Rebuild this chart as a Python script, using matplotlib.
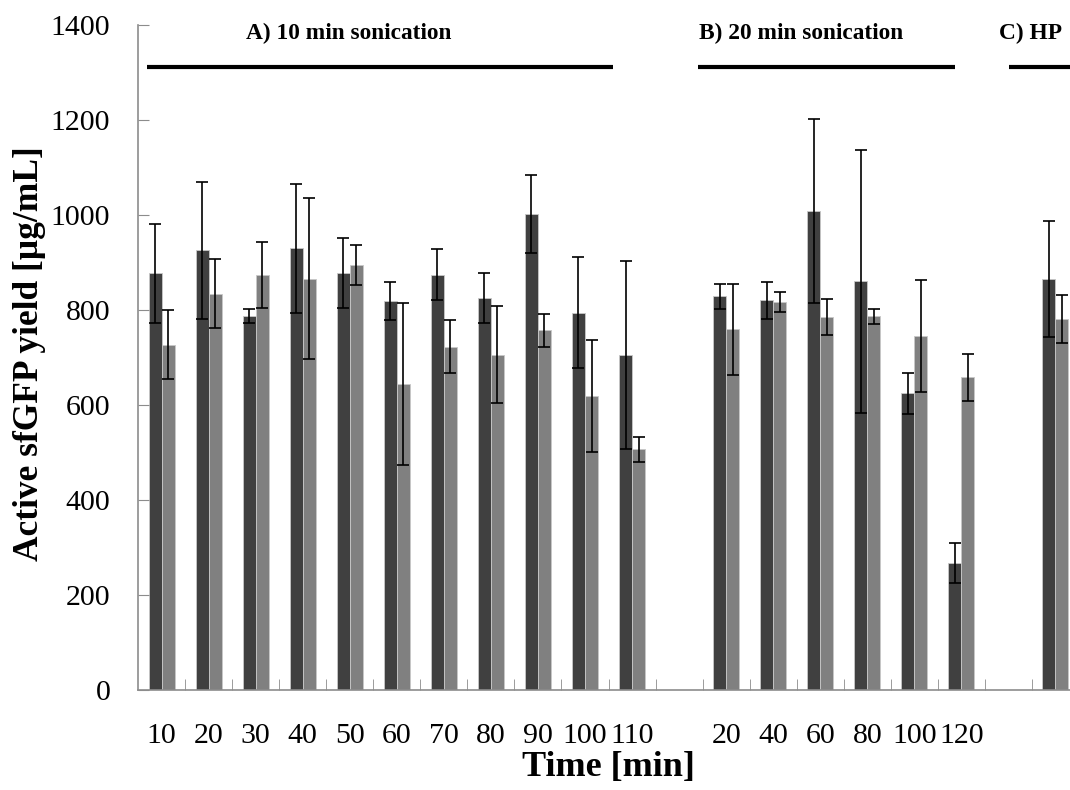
import numpy as np
import matplotlib
matplotlib.use("Agg")
import matplotlib.pyplot as plt

plt.rcParams['font.family'] = ['Liberation Serif', 'DejaVu Serif']

# A) 10 min sonication, times 10..110 min
a_labels = ['10', '20', '30', '40', '50', '60', '70', '80', '90', '100', '110']
a_dark = [877, 926, 787, 930, 878, 818, 874, 825, 1002, 794, 706]
a_dark_err = [105, 144, 15, 136, 74, 40, 54, 52, 82, 117, 198]
a_gray = [727, 834, 874, 866, 894, 644, 723, 706, 757, 619, 507]
a_gray_err = [72, 73, 69, 169, 42, 171, 55, 102, 35, 118, 26]

# B) 20 min sonication, times 20..120 min
b_labels = ['20', '40', '60', '80', '100', '120']
b_dark = [829, 820, 1008, 860, 625, 267]
b_dark_err = [26, 38, 194, 277, 43, 42]
b_gray = [759, 816, 785, 787, 745, 658]
b_gray_err = [96, 21, 38, 16, 118, 50]

# C) HP
c_labels = ['']
c_dark = [865]
c_dark_err = [122]
c_gray = [781]
c_gray_err = [50]

gap = [np.nan]
labels = a_labels + [''] + b_labels + [''] + c_labels
dark = np.array(a_dark + gap + b_dark + gap + c_dark, dtype=float)
dark_err = np.array(a_dark_err + gap + b_dark_err + gap + c_dark_err, dtype=float)
gray = np.array(a_gray + gap + b_gray + gap + c_gray, dtype=float)
gray_err = np.array(a_gray_err + gap + b_gray_err + gap + c_gray_err, dtype=float)
x = np.arange(len(labels))

fig = plt.figure(figsize=(10.7, 7.9), dpi=100)
ax = fig.add_axes([0.129, 0.1266, 0.8794, 0.8418])

w = 0.277
ax.bar(x - w / 2, dark, w, color='#404040', edgecolor='#c8c8c8', linewidth=0.6)
ax.bar(x + w / 2, gray, w, color='#808080', edgecolor='#c8c8c8', linewidth=0.6)
ax.errorbar(x - w / 2, dark, yerr=dark_err, fmt='none', ecolor='black',
            elinewidth=1.2, capsize=4, capthick=1.2)
ax.errorbar(x + w / 2, gray, yerr=gray_err, fmt='none', ecolor='black',
            elinewidth=1.2, capsize=4, capthick=1.2)

ax.set_xlim(-0.5, len(labels) - 0.5)
ax.set_ylim(0, 1400)
ax.set_yticks(np.arange(0, 1401, 200))
ax.set_xticks(x)
ax.set_xticklabels(labels)
ax.set_xticks(np.arange(0.5, len(labels) - 1, 1), minor=True)

for side in ['top', 'right']:
    ax.spines[side].set_visible(False)
for side in ['left', 'bottom']:
    ax.spines[side].set_color('#8c8c8c')
    ax.spines[side].set_linewidth(1.2)

ax.tick_params(axis='y', direction='in', length=8, color='#8c8c8c',
               labelsize=21.5, pad=20)
ax.tick_params(axis='x', which='major', length=0, labelsize=21.5, pad=24)
ax.tick_params(axis='x', which='minor', direction='in', length=8,
               color='#8c8c8c')

ax.text(-0.115, 0.506, 'Active sfGFP yield [µg/mL]', transform=ax.transAxes,
        rotation=90, ha='center', va='center', fontsize=25.5, fontweight='bold')
ax.text(0.5, -0.117, 'Time [min]', transform=ax.transAxes,
        ha='center', va='center', fontsize=26, fontweight='bold')

# group headers with bars above each section
groups = [
    ('A) 10 min sonication', -0.31, 9.6, 3.98),
    ('B) 20 min sonication', 11.4, 16.86, 13.59),
    ('C) HP', 18.01, 19.7, 18.48),
]
for name, x0, x1, xc in groups:
    ax.plot([x0, x1], [1312, 1312], color='black', linewidth=3,
            solid_capstyle='butt', clip_on=False)
    ax.text(xc, 1383, name, ha='center', va='center', fontsize=16.8,
            fontweight='bold')

fig.savefig('out.png', dpi=100)
